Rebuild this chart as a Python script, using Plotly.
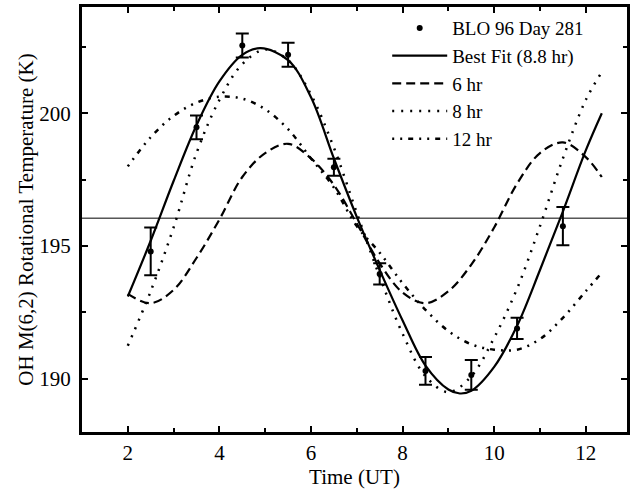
import plotly.graph_objects as go

# ---- data ----
time_obs = [2.5, 3.5, 4.5, 5.5, 6.5, 7.5, 8.5, 9.5, 10.5, 11.5]
temp_obs = [194.8, 199.47, 202.55, 202.2, 197.97, 193.95, 190.3, 190.15, 191.9, 195.75]
temp_err = [0.9, 0.45, 0.45, 0.45, 0.32, 0.4, 0.52, 0.56, 0.4, 0.72]

time_best = [2.0, 2.5, 3.0, 3.5, 4.0, 4.5, 4.9, 5.5, 6.0, 6.5, 7.0, 7.5, 8.0, 8.5,
             9.0, 9.25, 9.5, 10.0, 10.5, 11.0, 11.5, 12.0, 12.35]
temp_best = [193.1, 195.2, 197.45, 199.55, 201.2, 202.2, 202.45, 202.0, 200.6, 198.3,
             196.1, 194.1, 192.2, 190.5, 189.6, 189.45, 189.55, 190.45, 192.0, 194.1,
             196.3, 198.6, 200.0]

time_model = [2.0, 2.5, 3.0, 3.5, 4.0, 4.5, 5.0, 5.5, 6.0, 6.5, 7.0, 7.5, 8.0, 8.5,
              9.0, 9.5, 10.0, 10.5, 11.0, 11.5, 12.0, 12.35]
temp_6hr = [193.2, 192.85, 193.35, 194.55, 196.0, 197.6, 198.5, 198.85, 198.3, 197.3,
            195.85, 194.35, 193.25, 192.85, 193.3, 194.3, 195.7, 197.35, 198.5, 198.9,
            198.35, 197.6]
temp_8hr = [191.25, 193.3, 195.7, 198.5, 200.5, 201.85, 202.4, 202.0, 200.7, 198.7,
            196.25, 193.85, 191.7, 190.1, 189.5, 190.1, 191.55, 193.4, 195.75, 198.3,
            200.5, 201.55]
temp_12hr = [198.0, 199.1, 199.9, 200.4, 200.62, 200.55, 200.15, 199.4, 198.3, 197.2,
             195.75, 194.75, 193.6, 192.6, 191.8, 191.3, 191.1, 191.1, 191.5, 192.3,
             193.3, 194.0]

mean_temp = 196.05

x_ticks = [2, 4, 6, 8, 10, 12]
y_ticks = [190, 195, 200]

FONT = "Liberation Serif, Times New Roman, serif"

fig = go.Figure()

fig.add_trace(go.Scatter(x=time_best, y=temp_best, mode="lines", name="Best Fit (8.8 hr)",
                         line=dict(color="black", width=2.2, shape="spline"), legendrank=2))
fig.add_trace(go.Scatter(x=time_model, y=temp_6hr, mode="lines", name="6 hr",
                         line=dict(color="black", width=2.2, dash="9px,5px", shape="spline"),
                         legendrank=3))
fig.add_trace(go.Scatter(x=time_model, y=temp_8hr, mode="lines", name="8 hr",
                         line=dict(color="black", width=2.5, dash="2px,7px", shape="spline"),
                         legendrank=4))
fig.add_trace(go.Scatter(x=time_model, y=temp_12hr, mode="lines", name="12 hr",
                         line=dict(color="black", width=2.5, dash="2px,6px,2px,6px,5px,6px",
                                   shape="spline"),
                         legendrank=5))
fig.add_trace(go.Scatter(x=time_obs, y=temp_obs, mode="markers", name="BLO 96 Day 281",
                         marker=dict(color="black", size=6),
                         error_y=dict(type="data", array=temp_err, color="black",
                                      thickness=2, width=6.5),
                         legendrank=1))

fig.add_hline(y=mean_temp, line=dict(color="black", width=1))

axis_common = dict(
    showgrid=False, zeroline=False, showline=True, linecolor="black", linewidth=3,
    mirror="allticks", ticks="inside", ticklen=6, tickwidth=1.5, tickcolor="black",
    tickfont=dict(family=FONT, size=21, color="black"), automargin=False,
)

fig.update_xaxes(range=[1.0, 12.9], tickvals=x_ticks,
                 minor=dict(dtick=1, ticks="inside", ticklen=4, tickcolor="black", tickwidth=1.5),
                 title=dict(text="Time (UT)", font=dict(family=FONT, size=21, color="black"),
                            standoff=0),
                 **axis_common)
fig.update_yaxes(range=[188, 204], tickvals=y_ticks, ticklabelstandoff=4,
                 minor=dict(dtick=2.5, ticks="inside", ticklen=4, tickcolor="black", tickwidth=1.5),
                 title=dict(text="OH M(6,2) Rotational Temperature (K)",
                            font=dict(family=FONT, size=21, color="black"), standoff=0),
                 **axis_common)

fig.update_layout(
    width=635, height=490,
    margin=dict(l=82, r=8, t=7, b=58),
    paper_bgcolor="white", plot_bgcolor="white",
    font=dict(family=FONT, color="black"),
    showlegend=True,
    legend=dict(x=0.56, y=0.995, xanchor="left", yanchor="top",
                bgcolor="rgba(0,0,0,0)", borderwidth=0,
                font=dict(family=FONT, size=19, color="black"),
                itemwidth=55, tracegroupgap=0),
)

fig.write_html("out.html", config={"displayModeBar": False},
               post_script="document.body.style.margin='0';document.body.style.padding='0';")
